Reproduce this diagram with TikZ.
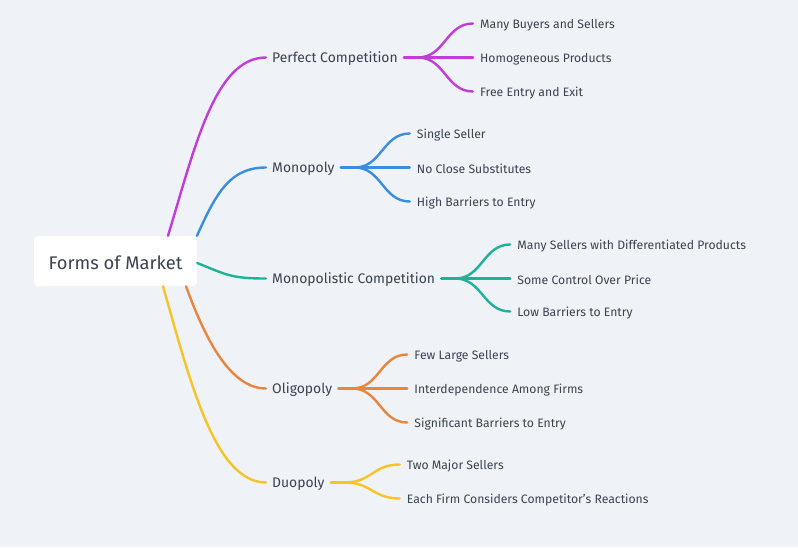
\documentclass[tikz,border=0pt]{standalone}
\usepackage{fontspec}
\setmainfont{Fira Sans}
\usetikzlibrary{calc}
\definecolor{bg}{HTML}{EFF2F6}
\definecolor{txt}{HTML}{3B4350}
\definecolor{cmag}{HTML}{C23DD8}
\definecolor{cblue}{HTML}{3A8EE0}
\definecolor{cteal}{HTML}{1FB29A}
\definecolor{corange}{HTML}{E8863E}
\definecolor{cyellow}{HTML}{F6C427}
\tikzset{
  l1/.style={anchor=west, inner xsep=6pt, inner ysep=2pt, text=txt, font=\fontsize{13.9}{16}\selectfont},
  leaf/.style={anchor=west, inner xsep=7pt, inner ysep=2pt, text=txt, font=\fontsize{12.2}{15}\selectfont},
  conn/.style={line width=2.4pt, line cap=round}
}
\begin{document}
\begin{tikzpicture}[x=1pt,y=-1pt]
\fill[bg] (0,0) rectangle (798,547);
\useasboundingbox (0,0) rectangle (798,547);
\node[fill=white, rounded corners=4pt, minimum width=163pt, minimum height=50pt] (root) at (115.5,261) {};
\node[text=txt, font=\fontsize{18.3}{20}\selectfont] (roottext) at (115.5,262.5) {Forms of Market};

\node[l1] (pc) at (266,59) {Perfect Competition};
\node[l1] (mo) at (266,169) {Monopoly};
\node[l1] (mc) at (266,280) {Monopolistic Competition};
\node[l1] (ol) at (266,390) {Oligopoly};
\node[l1] (du) at (266,484) {Duopoly};

\draw[conn, cmag] ($(root.north)+(52.5,0)$) .. controls +(27,-89) and +(-51,0) .. ($(pc.west)+(0,-1.5)$);
\draw[conn, cblue] ($(root.north)+(81.5,0)$) .. controls +(20,-45) and +(-35,0) .. ($(mo.west)+(0,-1.5)$);
\draw[conn, cteal] ($(root.east)+(0,2)$) .. controls +(30,12) and +(-35,0) .. ($(mc.west)+(0,-1.5)$);
\draw[conn, corange] ($(root.south)+(70.5,0)$) .. controls +(20,55) and +(-35,0) .. ($(ol.west)+(0,-1.5)$);
\draw[conn, cyellow] ($(root.south)+(47.5,0)$) .. controls +(27,95) and +(-51,0) .. ($(du.west)+(0,-1.5)$);

% Perfect competition
\coordinate (pcf) at ($(pc.east)+(14,-1.5)$);
\node[leaf] (pc1) at ($(pc.east)+(69,-34)$) {Many Buyers and Sellers};
\node[leaf] (pc2) at ($(pc.east)+(69,0)$) {Homogeneous Products};
\node[leaf] (pc3) at ($(pc.east)+(69,34)$) {Free Entry and Exit};
\draw[conn, cmag] ($(pc.east)+(0,-1.5)$) -- (pcf);
\foreach \n in {pc1,pc2,pc3} \draw[conn, cmag] (pcf) .. controls +(27,0) and +(-27,0) .. ($(\n.west)+(0,-1.5)$);

% Monopoly
\coordinate (mof) at ($(mo.east)+(14,-1.5)$);
\node[leaf] (mo1) at ($(mo.east)+(69,-34)$) {Single Seller};
\node[leaf] (mo2) at ($(mo.east)+(69,0)$) {No Close Substitutes};
\node[leaf] (mo3) at ($(mo.east)+(69,34)$) {High Barriers to Entry};
\draw[conn, cblue] ($(mo.east)+(0,-1.5)$) -- (mof);
\foreach \n in {mo1,mo2,mo3} \draw[conn, cblue] (mof) .. controls +(27,0) and +(-27,0) .. ($(\n.west)+(0,-1.5)$);

% Monopolistic competition
\coordinate (mcf) at ($(mc.east)+(14,-1.5)$);
\node[leaf] (mc1) at ($(mc.east)+(69,-34)$) {Many Sellers with Differentiated Products};
\node[leaf] (mc2) at ($(mc.east)+(69,0)$) {Some Control Over Price};
\node[leaf] (mc3) at ($(mc.east)+(69,33)$) {Low Barriers to Entry};
\draw[conn, cteal] ($(mc.east)+(0,-1.5)$) -- (mcf);
\foreach \n in {mc1,mc2,mc3} \draw[conn, cteal] (mcf) .. controls +(27,0) and +(-27,0) .. ($(\n.west)+(0,-1.5)$);

% Oligopoly
\coordinate (olf) at ($(ol.east)+(14,-1.5)$);
\node[leaf] (ol1) at ($(ol.east)+(69,-34)$) {Few Large Sellers};
\node[leaf] (ol2) at ($(ol.east)+(69,0)$) {Interdependence Among Firms};
\node[leaf] (ol3) at ($(ol.east)+(69,34)$) {Significant Barriers to Entry};
\draw[conn, corange] ($(ol.east)+(0,-1.5)$) -- (olf);
\foreach \n in {ol1,ol2,ol3} \draw[conn, corange] (olf) .. controls +(27,0) and +(-27,0) .. ($(\n.west)+(0,-1.5)$);

% Duopoly
\coordinate (duf) at ($(du.east)+(14,-1.5)$);
\node[leaf] (du1) at ($(du.east)+(69,-18)$) {Two Major Sellers};
\node[leaf] (du2) at ($(du.east)+(69,16)$) {Each Firm Considers Competitor’s Reactions};
\draw[conn, cyellow] ($(du.east)+(0,-1.5)$) -- (duf);
\foreach \n in {du1,du2} \draw[conn, cyellow] (duf) .. controls +(27,0) and +(-27,0) .. ($(\n.west)+(0,-1.5)$);
\end{tikzpicture}
\end{document}
